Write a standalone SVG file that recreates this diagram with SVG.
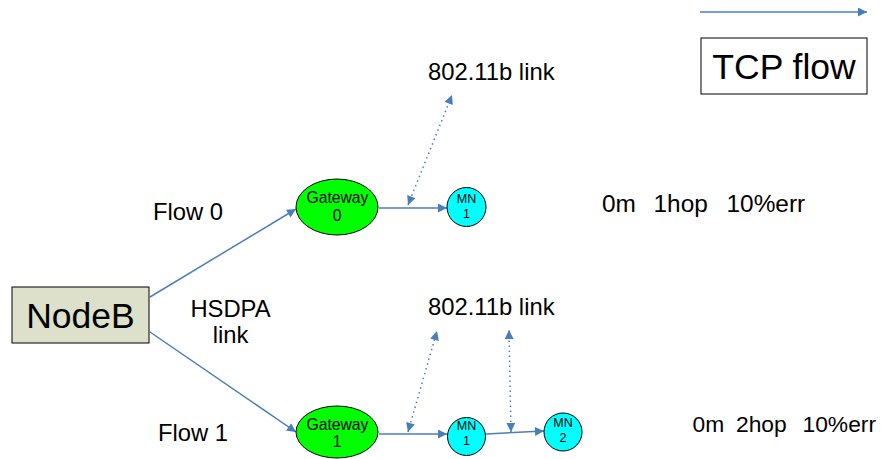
<svg xmlns="http://www.w3.org/2000/svg" width="881" height="459" viewBox="0 0 881 459">
<style>
text{font-family:"Liberation Sans",Arial,sans-serif;fill:#000}
.big{font-size:35.5px}
.lbl{font-size:23.8px}
.lbl1{font-size:24.4px}
.lbl2{font-size:22.8px}
.gw{font-size:15.7px}
.mn{font-size:12.5px}
.flow{fill:none;stroke:#4a7ebb;stroke-width:1.5}
.dot{fill:none;stroke:#4a7ebb;stroke-width:1.5;stroke-dasharray:1.5 3.5}
</style>
<defs>
<marker id="ah" viewBox="0 0 10 10" refX="10" refY="5" markerWidth="11" markerHeight="9" markerUnits="userSpaceOnUse" orient="auto-start-reverse">
<path d="M0,0 L10,5 L0,10 z" fill="#4a7ebb"/>
</marker>
</defs>
<rect width="881" height="459" fill="#fff"/>
<g id="connectors">
<line class="flow" x1="700" y1="12" x2="867" y2="12" marker-end="url(#ah)"/>
<line class="flow" x1="150" y1="297" x2="296" y2="209" marker-end="url(#ah)"/>
<line class="flow" x1="150" y1="332" x2="296" y2="432" marker-end="url(#ah)"/>
<line class="flow" x1="379" y1="208" x2="447" y2="208" marker-end="url(#ah)"/>
<line class="flow" x1="379" y1="434" x2="447" y2="434" marker-end="url(#ah)"/>
<line class="flow" x1="486" y1="434" x2="544" y2="431" marker-end="url(#ah)"/>
<line class="dot" x1="408" y1="205" x2="452" y2="95" marker-start="url(#ah)" marker-end="url(#ah)"/>
<line class="dot" x1="408" y1="432" x2="437" y2="331" marker-start="url(#ah)" marker-end="url(#ah)"/>
<line class="dot" x1="511" y1="432" x2="509" y2="330" marker-start="url(#ah)" marker-end="url(#ah)"/>
</g>
<g id="nodeB">
<rect x="12" y="287" width="137" height="56" fill="#dde1cb" stroke="#000" stroke-width="1"/>
<text class="big" x="80.5" y="327.5" text-anchor="middle">NodeB</text>
</g>
<g id="gateway0">
<ellipse cx="337" cy="207" rx="41" ry="28" fill="#00ff00" stroke="#000" stroke-width="1"/>
<text class="gw" x="337.5" y="203" text-anchor="middle">Gateway</text>
<text class="gw" x="337" y="221" text-anchor="middle">0</text>
</g>
<g id="mn1-top">
<circle cx="466.5" cy="207" r="19.5" fill="#00ffff" stroke="#000" stroke-width="1"/>
<text class="mn" x="466.5" y="203" text-anchor="middle">MN</text>
<text class="mn" x="466.5" y="218" text-anchor="middle">1</text>
</g>
<g id="gateway1">
<ellipse cx="337" cy="432" rx="41" ry="26" fill="#00ff00" stroke="#000" stroke-width="1"/>
<text class="gw" x="337.5" y="430" text-anchor="middle">Gateway</text>
<text class="gw" x="337" y="447" text-anchor="middle">1</text>
</g>
<g id="mn1-bottom">
<circle cx="466.5" cy="436.5" r="19" fill="#00ffff" stroke="#000" stroke-width="1"/>
<text class="mn" x="466.5" y="430" text-anchor="middle">MN</text>
<text class="mn" x="466.5" y="445" text-anchor="middle">1</text>
</g>
<g id="mn2">
<circle cx="563" cy="432" r="19" fill="#00ffff" stroke="#000" stroke-width="1"/>
<text class="mn" x="563" y="427" text-anchor="middle">MN</text>
<text class="mn" x="563" y="442" text-anchor="middle">2</text>
</g>
<g id="legend">
<rect x="701" y="38" width="166" height="56" fill="#fff" stroke="#000" stroke-width="1"/>
<text class="big" x="784" y="78.5" text-anchor="middle">TCP flow</text>
</g>
<g id="labels">
<text class="lbl" x="428" y="80">802.11b link</text>
<text class="lbl" x="428" y="315">802.11b link</text>
<text class="lbl" x="153" y="220">Flow 0</text>
<text class="lbl" x="158" y="441">Flow 1</text>
<text class="lbl" x="230.5" y="317" text-anchor="middle">HSDPA</text>
<text class="lbl" x="230.5" y="343" text-anchor="middle">link</text>
<text class="lbl1" y="212"><tspan x="602">0m</tspan><tspan x="653.5">1hop</tspan><tspan x="726.5">10%err</tspan></text>
<text class="lbl2" y="432"><tspan x="692.5">0m</tspan><tspan x="736">2hop</tspan><tspan x="802.5">10%err</tspan></text>
</g>
</svg>
